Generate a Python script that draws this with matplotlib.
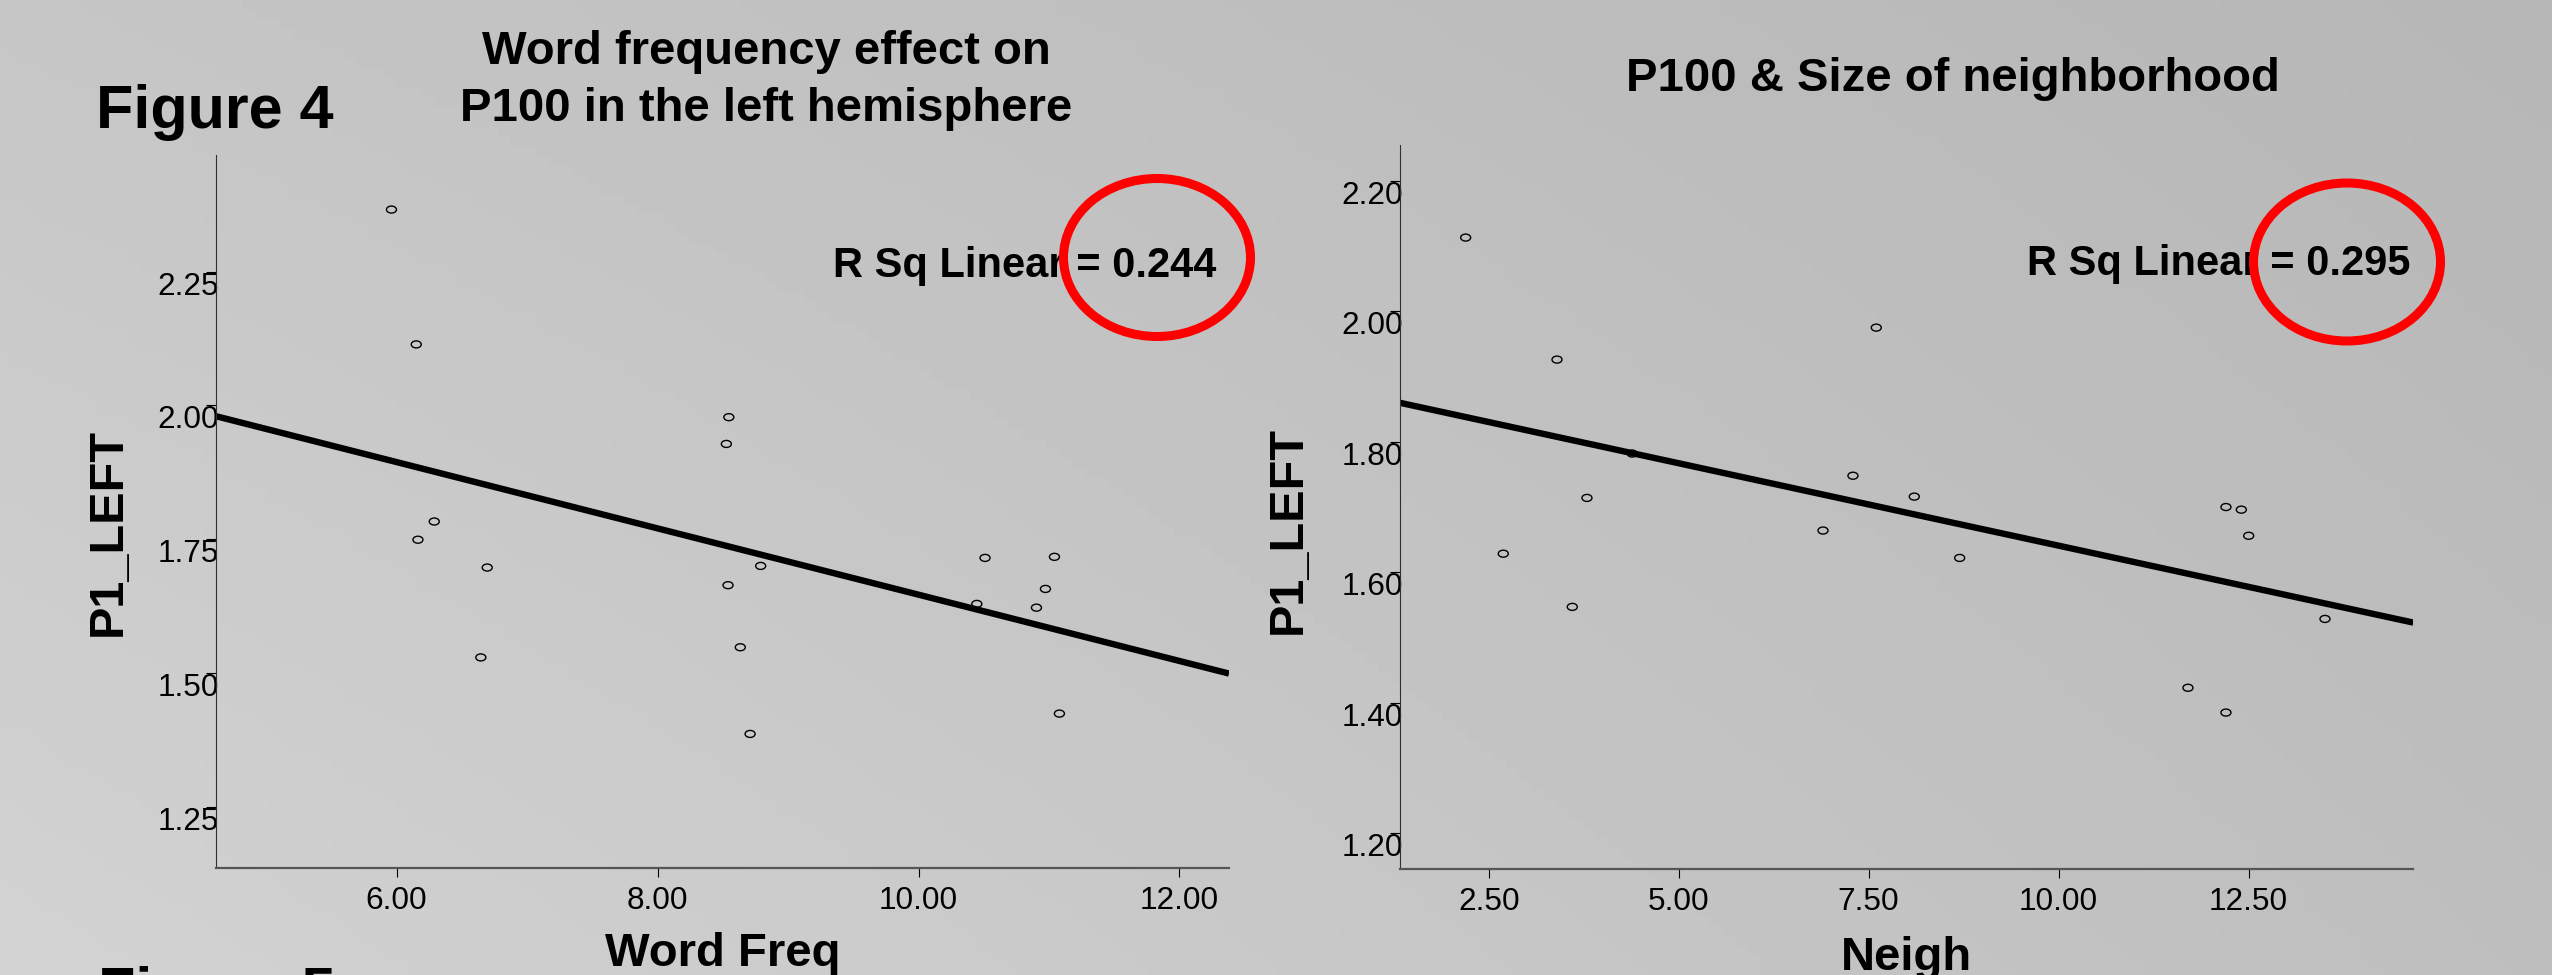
import numpy as np
import matplotlib
matplotlib.use("Agg")
from matplotlib import pyplot as plt
from matplotlib.patches import Ellipse
from matplotlib.path import Path
from matplotlib.transforms import Affine2D

plt.rcParams['font.family'] = ['Liberation Sans', 'DejaVu Sans']

# Figure 4 left panel: P1_LEFT vs Word Freq
freq_x = [5.96, 6.15, 8.546, 8.527, 6.288, 6.163, 6.694, 6.645, 8.540,
          8.790, 8.634, 8.709, 10.510, 10.447, 11.042, 10.973, 10.904, 11.080]
freq_y = [2.366, 2.114, 1.978, 1.928, 1.783, 1.749, 1.697, 1.529, 1.664,
          1.700, 1.548, 1.386, 1.715, 1.629, 1.717, 1.657, 1.622, 1.424]
freq_xticks = [6, 8, 10, 12]
freq_yticks = [1.25, 1.50, 1.75, 2.00, 2.25]

# right panel: P1_LEFT vs Neigh
neigh_x = [2.197, 3.399, 3.793, 2.692, 3.600, 6.899, 7.293, 4.388, 7.600,
           8.100, 8.697, 12.201, 12.403, 12.5, 13.504, 11.701, 12.201]
neigh_y = [2.113, 1.926, 1.714, 1.6285, 1.547, 1.664, 1.748, 1.782, 1.975,
           1.716, 1.622, 1.700, 1.696, 1.656, 1.5285, 1.423, 1.385]
neigh_xticks = [2.5, 5.0, 7.5, 10.0, 12.5]
neigh_yticks = [1.20, 1.40, 1.60, 1.80, 2.00, 2.20]

rsq_left = 0.244
rsq_right = 0.295

W, H = 2552, 975
fig = plt.figure(figsize=(W / 100, H / 100), dpi=100)

# grey gradient background
bg = fig.add_axes([0, 0, 1, 1], zorder=-10)
gx, gy = np.meshgrid(np.linspace(0, 1, 200), np.linspace(0, 1, 100))
grad = 0.775 * (1 - gx) * (1 - gy) + 0.715 * gx * (1 - gy) + 0.825 * (1 - gx) * gy + 0.745 * gx * gy
bg.imshow(grad, cmap='gray', vmin=0, vmax=1, aspect='auto', extent=[0, 1, 0, 1], origin='upper')
bg.axis('off')

# flattened open circle, like the SPSS markers
oval = Path.unit_circle().transformed(Affine2D().scale(1.0, 0.7))


def panel(rect, x, y, xlim, ylim, xticks, yticks):
    ax = fig.add_axes(rect)
    ax.set_facecolor('none')
    ax.scatter(x, y, s=52, marker=oval, facecolors='none', edgecolors='black', linewidths=1.0, zorder=3)
    k, b = np.polyfit(x, y, 1)
    xs = np.array(xlim)
    ax.plot(xs, k * xs + b, color='black', lw=4.6, solid_capstyle='butt', zorder=2)
    ax.set_xlim(xlim)
    ax.set_ylim(ylim)
    ax.set_xticks(xticks)
    ax.set_yticks(yticks)
    ax.set_xticklabels(['%.2f' % v for v in xticks])
    ax.set_yticklabels(['%.2f' % v for v in yticks])
    for s in ['top', 'right']:
        ax.spines[s].set_visible(False)
    ax.spines['left'].set_color('#303030')
    ax.spines['left'].set_linewidth(0.8)
    ax.spines['bottom'].set_color('#555555')
    ax.spines['bottom'].set_linewidth(1.6)
    ax.tick_params(axis='x', direction='out', length=6.5, width=0.8, pad=7, labelsize=22.7)
    ax.tick_params(axis='y', direction='out', length=7, width=0.8, pad=-9.2, labelsize=22.7)
    for lab in ax.get_yticklabels():
        lab.set_verticalalignment('top')
    return ax


panel([216 / W, 1 - 867.7 / H, 1013 / W, 712.7 / H], freq_x, freq_y,
      (4.615, 12.38), (1.136, 2.468), freq_xticks, freq_yticks)
panel([1400.3 / W, 1 - 868.7 / H, 1013 / W, 723.7 / H], neigh_x, neigh_y,
      (1.337, 14.666), (1.1457, 2.2549), neigh_xticks, neigh_yticks)

# texts
fig.text(96 / W, 1 - 128 / H, 'Figure 4', fontsize=44, fontweight='bold', va='baseline')
fig.text(98 / W, 1 - 1010 / H, 'Figure 5', fontsize=44, fontweight='bold', va='baseline')
fig.text(766.5 / W, 1 - 64 / H, 'Word frequency effect on', fontsize=34, fontweight='bold',
         ha='center', va='baseline')
fig.text(766.5 / W, 1 - 121 / H, 'P100 in the left hemisphere', fontsize=34, fontweight='bold',
         ha='center', va='baseline')
fig.text(1952.7 / W, 1 - 90.7 / H, 'P100 & Size of neighborhood', fontsize=34, fontweight='bold',
         ha='center', va='baseline')

fig.text(1216 / W, 1 - 277 / H, 'R Sq Linear = %.3f' % rsq_left, fontsize=30, fontweight='bold',
         ha='right', va='baseline')
fig.text(2410.5 / W, 1 - 275 / H, 'R Sq Linear = %.3f' % rsq_right, fontsize=30, fontweight='bold',
         ha='right', va='baseline')

fig.text(108 / W, 1 - 532.5 / H, 'P1_LEFT', fontsize=35, fontweight='bold', rotation=90,
         ha='center', va='center')
fig.text(1288.5 / W, 1 - 530 / H, 'P1_LEFT', fontsize=35, fontweight='bold', rotation=90,
         ha='center', va='center')
fig.text(723 / W, 1 - 966 / H, 'Word Freq', fontsize=34, fontweight='bold', ha='center', va='baseline')
fig.text(1906.8 / W, 1 - 970 / H, 'Neigh', fontsize=34, fontweight='bold', ha='center', va='baseline')

# red circles round the R squared values
for cx, cy in [(1157, 257.5), (2347, 262)]:
    e = Ellipse((cx / W, 1 - cy / H), 187 / W, 158 / H, transform=fig.transFigure,
                fill=False, edgecolor='#ff0000', lw=6.5, zorder=10)
    fig.add_artist(e)

fig.savefig('out.png', dpi=100)
